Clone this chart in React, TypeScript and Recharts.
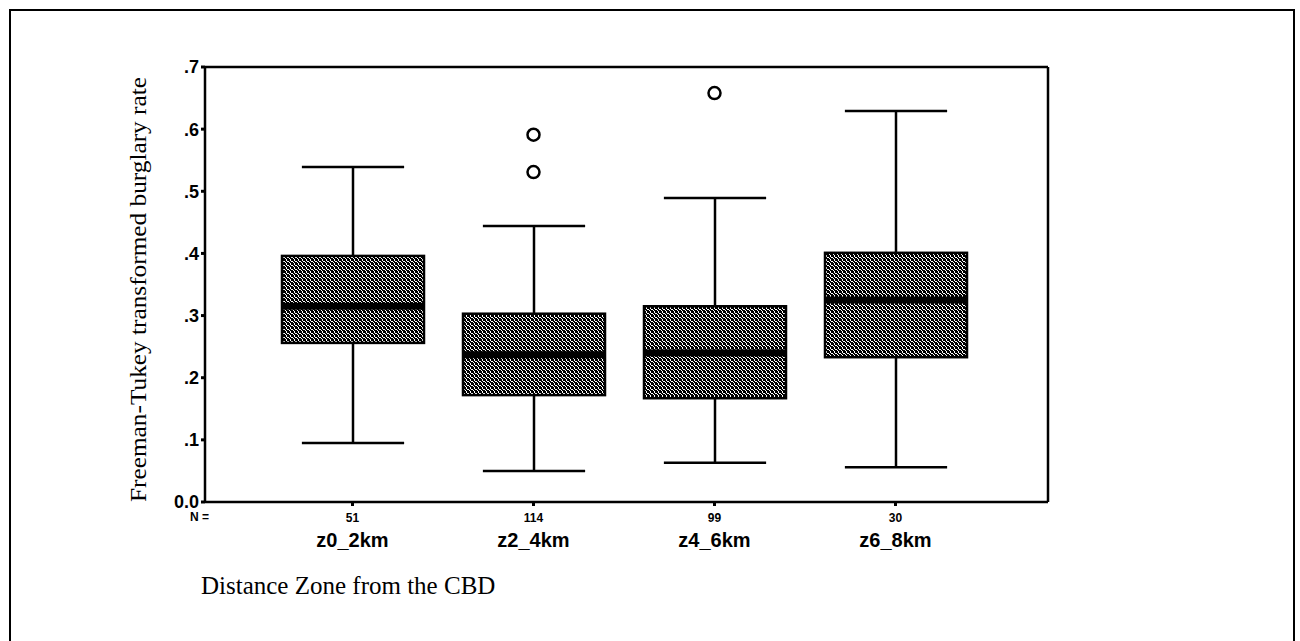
import React from "react";
import { ComposedChart, Bar, Scatter, XAxis, YAxis, CartesianGrid } from "recharts";

// values
const zones = ["z0_2km", "z2_4km", "z4_6km", "z6_8km"];
const counts = [51, 114, 99, 30];
const whiskerLow = [0.095, 0.05, 0.063, 0.056];
const lowerQuartile = [0.256, 0.172, 0.167, 0.233];
const medians = [0.315, 0.237, 0.24, 0.325];
const upperQuartile = [0.396, 0.303, 0.315, 0.401];
const whiskerHigh = [0.539, 0.444, 0.489, 0.629];
const outlierFirst = [null, 0.591, 0.658, null];
const outlierSecond = [null, 0.531, null, null];
const yTicks = [0, 0.1, 0.2, 0.3, 0.4, 0.5, 0.6, 0.7];

const data = zones.map((zone, i) => ({
  zone,
  n: counts[i],
  lo: whiskerLow[i],
  q1: lowerQuartile[i],
  med: medians[i],
  q3: upperQuartile[i],
  hi: whiskerHigh[i],
  range: [whiskerLow[i], whiskerHigh[i]],
  outA: outlierFirst[i],
  outB: outlierSecond[i],
}));

const SANS = "'Liberation Sans', Arial, sans-serif";
const SERIF = "'Liberation Serif', 'Times New Roman', serif";

function BoxShape(props: any) {
  const { x, y, width, height, payload } = props;
  if (!payload || height == null) return null;
  const top = Math.min(y, y + height);
  const bottom = Math.max(y, y + height);
  const span = payload.hi - payload.lo;
  const toY = (v: number) => top + ((payload.hi - v) / span) * (bottom - top);
  const cx = x + width / 2;
  const capHalf = width * 0.36;
  const yQ1 = toY(payload.q1);
  const yQ3 = toY(payload.q3);
  const yMed = toY(payload.med);
  return (
    <g>
      <line x1={cx} x2={cx} y1={top} y2={yQ3} stroke="#000" strokeWidth={2.5} />
      <line x1={cx} x2={cx} y1={yQ1} y2={bottom} stroke="#000" strokeWidth={2.5} />
      <line x1={cx - capHalf} x2={cx + capHalf} y1={top} y2={top} stroke="#000" strokeWidth={2.5} />
      <line x1={cx - capHalf} x2={cx + capHalf} y1={bottom} y2={bottom} stroke="#000" strokeWidth={2.5} />
      <rect x={x} y={yQ3} width={width} height={yQ1 - yQ3} fill="url(#halftone)" stroke="#000" strokeWidth={2.5} />
      <rect x={x} y={yMed - 3.5} width={width} height={7} fill="#000" />
    </g>
  );
}

function Outlier(props: any) {
  const { cx, cy } = props;
  if (cy == null || Number.isNaN(cy) || cx == null) return null;
  return <circle cx={cx} cy={cy} r={6} fill="#fff" stroke="#000" strokeWidth={2.5} />;
}

function ZoneTick(props: any) {
  const { x, y, payload, index } = props;
  return (
    <g>
      <text x={x} y={y + 16} textAnchor="middle" fontFamily={SANS} fontWeight="bold" fontSize={12} fill="#000">
        {counts[index]}
      </text>
      <text x={x} y={y + 41} textAnchor="middle" fontFamily={SANS} fontWeight={600} fontSize={20} fill="#000">
        {payload.value}
      </text>
    </g>
  );
}

const fmtY = (v: number) => (v === 0 ? "0.0" : v.toFixed(1).replace(/^0/, ""));

export default function App() {
  return (
    <div style={{ position: "fixed", left: 0, top: 0, width: 1300, height: 641, background: "#fff", overflow: "hidden" }}>
      <svg width={0} height={0} style={{ position: "absolute" }}>
        <defs>
          <pattern id="halftone" width={4} height={4} patternUnits="userSpaceOnUse">
            <rect width={4} height={4} fill="#fff" />
            <rect x={0} y={0} width={2} height={1} fill="#000" />
            <rect x={3} y={0} width={1} height={1} fill="#000" />
            <rect x={1} y={1} width={2} height={1} fill="#000" />
            <rect x={0} y={2} width={1} height={1} fill="#000" />
            <rect x={2} y={2} width={2} height={1} fill="#000" />
            <rect x={0} y={3} width={2} height={1} fill="#000" />
            <rect x={3} y={3} width={1} height={1} fill="#000" />
          </pattern>
        </defs>
      </svg>
      <div
        style={{
          position: "absolute",
          left: 9,
          top: 9,
          width: 1282,
          height: 700,
          border: "2.5px solid #000",
        }}
      />
      <div style={{ position: "absolute", left: 0, top: 0 }}>
        <ComposedChart width={1300} height={641} data={data} margin={{ top: 67, right: 252, bottom: 79, left: 145 }}>
          {/* top and right edges of the plot frame */}
          <CartesianGrid
            stroke="#000"
            strokeWidth={2.5}
            horizontalCoordinatesGenerator={({ offset }: any) => [offset.top]}
            verticalCoordinatesGenerator={({ offset }: any) => [offset.left + offset.width]}
          />
          <XAxis
            dataKey="zone"
            padding={{ left: 57, right: 62 }}
            height={60}
            tickSize={4}
            tickMargin={0}
            tick={<ZoneTick />}
            tickLine={{ stroke: "#000", strokeWidth: 3 }}
            axisLine={{ stroke: "#000", strokeWidth: 2.5 }}
            interval={0}
          />
          <YAxis
            domain={[0, 0.7]}
            ticks={yTicks}
            width={60}
            tickFormatter={fmtY}
            tickSize={4}
            tickMargin={2}
            tick={{ fill: "#000", fontFamily: SANS, fontWeight: "bold", fontSize: 18 }}
            tickLine={{ stroke: "#000", strokeWidth: 3 }}
            axisLine={{ stroke: "#000", strokeWidth: 2.5 }}
            label={({ viewBox }: any) => {
              const cx = viewBox.x - 7;
              const cy = viewBox.y + viewBox.height / 2 + 5;
              return (
                <text
                  x={cx}
                  y={cy}
                  transform={`rotate(-90, ${cx}, ${cy})`}
                  textAnchor="middle"
                  dominantBaseline="central"
                  fontFamily={SERIF}
                  fontSize={24}
                  textLength={425}
                  lengthAdjust="spacingAndGlyphs"
                  fill="#000"
                >
                  Freeman-Tukey transformed burglary rate
                </text>
              );
            }}
          />
          <Bar dataKey="range" barSize={142} shape={<BoxShape />} isAnimationActive={false} />
          <Scatter dataKey="outA" shape={<Outlier />} isAnimationActive={false} />
          <Scatter dataKey="outB" shape={<Outlier />} isAnimationActive={false} />
        </ComposedChart>
      </div>
      <div style={{ position: "absolute", left: 190, top: 510, fontFamily: SANS, fontWeight: "bold", fontSize: 12 }}>N =</div>
      <div style={{ position: "absolute", left: 201, top: 572, fontFamily: SERIF, fontSize: 25, whiteSpace: "nowrap" }}>
        Distance Zone from the CBD
      </div>
    </div>
  );
}
